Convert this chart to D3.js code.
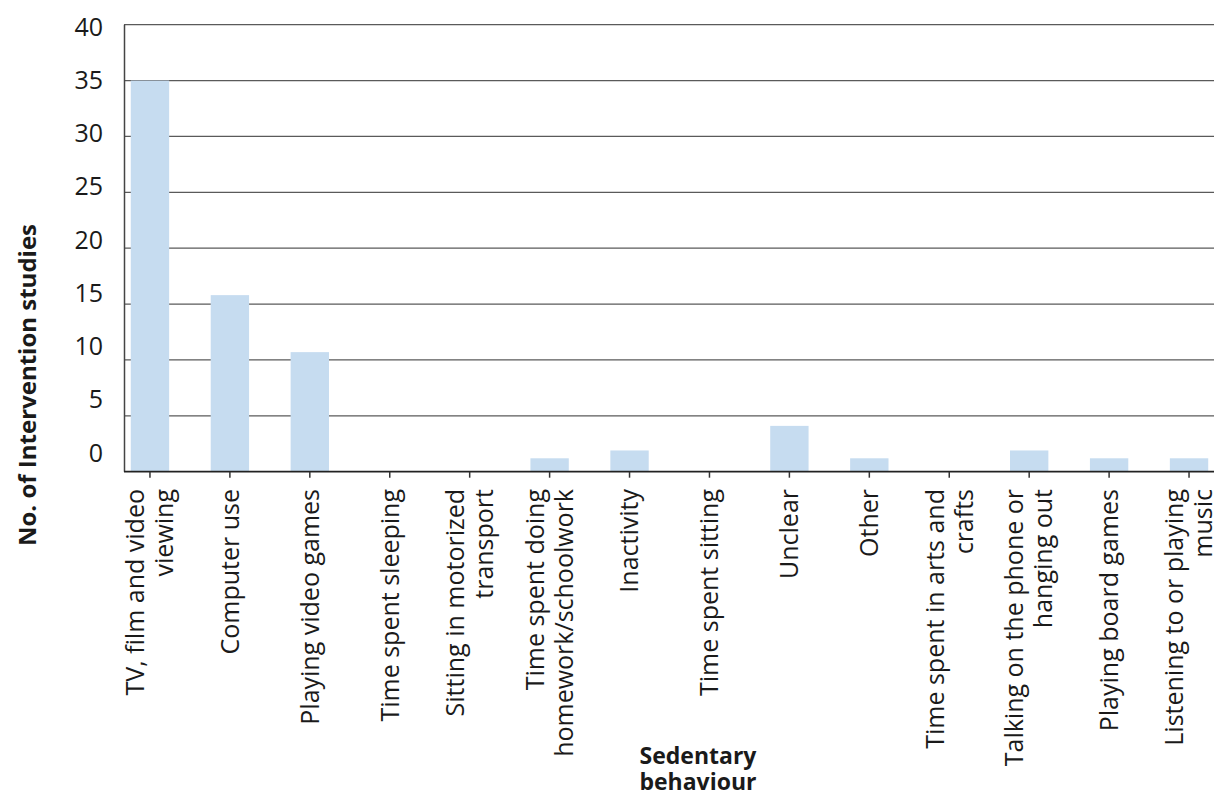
<!DOCTYPE html>
<html lang="en">

<head>
    <meta charset="UTF-8">
    <title>Sedentary behaviour - intervention studies</title>
    <script src="https://d3js.org/d3.v7.min.js"></script>
    <style>
        body { margin: 0; background: #fff; }
        text { font-family: "Open Sans", "Noto Sans", sans-serif; fill: #1a1a1a; }
    </style>
</head>

<body>
    <div id="chart"></div>

    <script>
        // categories (each entry is the label lines, first line is the left one)
        const categories = [
            ["TV, film and video", "viewing"],
            ["Computer use"],
            ["Playing video games"],
            ["Time spent sleeping"],
            ["Sitting in motorized", "transport"],
            ["Time spent doing", "homework/schoolwork"],
            ["Inactivity"],
            ["Time spent sitting"],
            ["Unclear"],
            ["Other"],
            ["Time spent in arts and", "crafts"],
            ["Talking on the phone or", "hanging out"],
            ["Playing board games"],
            ["Listening to or playing", "music"]
        ];
        // no. of intervention studies
        const studies = [35, 15.8, 10.7, 0, 0, 1.2, 1.9, 0, 4.1, 1.2, 0, 1.9, 1.2, 1.2];
        const yTicks = [0, 5, 10, 15, 20, 25, 30, 35, 40];
        const xTitle = ["Sedentary", "behaviour"];

        const width = 1228, height = 798;
        const plotLeft = 125, plotRight = 1214, plotTop = 24.7, plotBottom = 471.7;

        const svg = d3.select("#chart")
            .append("svg")
            .attr("width", width)
            .attr("height", height);

        const keys = categories.map((d, i) => i);

        const x = d3.scaleBand()
            .domain(keys)
            .range([110, 1229])
            .paddingInner(0.52)
            .paddingOuter(0.26);

        const y = d3.scaleLinear()
            .domain([0, 40])
            .range([plotBottom, plotTop]);

        // tick labels sit a bit tighter than the gridlines in the original
        const yLab = d3.scaleLinear()
            .domain([0, 40])
            .range([453, 27]);

        // gridlines
        svg.append("g")
            .selectAll("line")
            .data(yTicks.filter(d => d > 0))
            .enter().append("line")
            .attr("x1", plotLeft - 1)
            .attr("x2", plotRight)
            .attr("y1", d => y(d))
            .attr("y2", d => y(d))
            .attr("stroke", "#5a5a5a")
            .attr("stroke-width", 1.3);

        // bars
        svg.append("g")
            .selectAll("rect")
            .data(studies)
            .enter().append("rect")
            .attr("x", (d, i) => x(i))
            .attr("y", d => y(d))
            .attr("width", x.bandwidth())
            .attr("height", d => plotBottom - y(d))
            .attr("fill", "#c6dcf0");

        // y axis labels
        const yAxis = svg.append("g")
            .attr("transform", "translate(103,0)")
            .call(d3.axisLeft(yLab).tickValues(yTicks).tickSize(0).tickPadding(0));
        yAxis.select(".domain").remove();
        yAxis.selectAll("text")
            .style("font-size", "25px")
            .attr("fill", "#1a1a1a");

        // left axis line
        svg.append("line")
            .attr("x1", plotLeft - 0.5).attr("x2", plotLeft - 0.5)
            .attr("y1", plotTop).attr("y2", plotBottom)
            .attr("stroke", "#444")
            .attr("stroke-width", 1.5);

        // x axis
        const xAxis = svg.append("g")
            .attr("transform", "translate(0," + plotBottom + ")")
            .call(d3.axisBottom(x).tickSize(6).tickFormat(""));
        xAxis.select(".domain")
            .attr("d", "M" + (plotLeft - 1) + ",0H" + plotRight)
            .attr("stroke", "#222")
            .attr("stroke-width", 1.8);
        xAxis.selectAll(".tick line")
            .attr("stroke", "#333")
            .attr("stroke-width", 1.5);

        // rotated category labels
        const labels = svg.append("g")
            .selectAll("text")
            .data(categories)
            .enter().append("text")
            .attr("transform", (d, i) => {
                const cx = x(i) + x.bandwidth() / 2;
                const shift = d.length > 1 ? -14.5 : 0;
                return "translate(" + (cx + shift) + ",489) rotate(-90)";
            })
            .attr("text-anchor", "end")
            .style("font-size", "25px");

        labels.selectAll("tspan")
            .data(d => d)
            .enter().append("tspan")
            .attr("x", 0)
            .attr("y", (d, j) => j * 29)
            .attr("dy", "0.35em")
            .text(d => d);

        // axis titles
        svg.append("text")
            .attr("transform", "translate(28,385) rotate(-90)")
            .attr("text-anchor", "middle")
            .attr("dy", "0.35em")
            .style("font-size", "24px")
            .style("font-weight", "bold")
            .text("No. of Intervention studies");

        svg.append("text")
            .attr("text-anchor", "middle")
            .style("font-size", "23px")
            .style("font-weight", "bold")
            .selectAll("tspan")
            .data(xTitle)
            .enter().append("tspan")
            .attr("x", 698)
            .attr("y", (d, j) => 764 + j * 26)
            .text(d => d);
    </script>
</body>

</html>
